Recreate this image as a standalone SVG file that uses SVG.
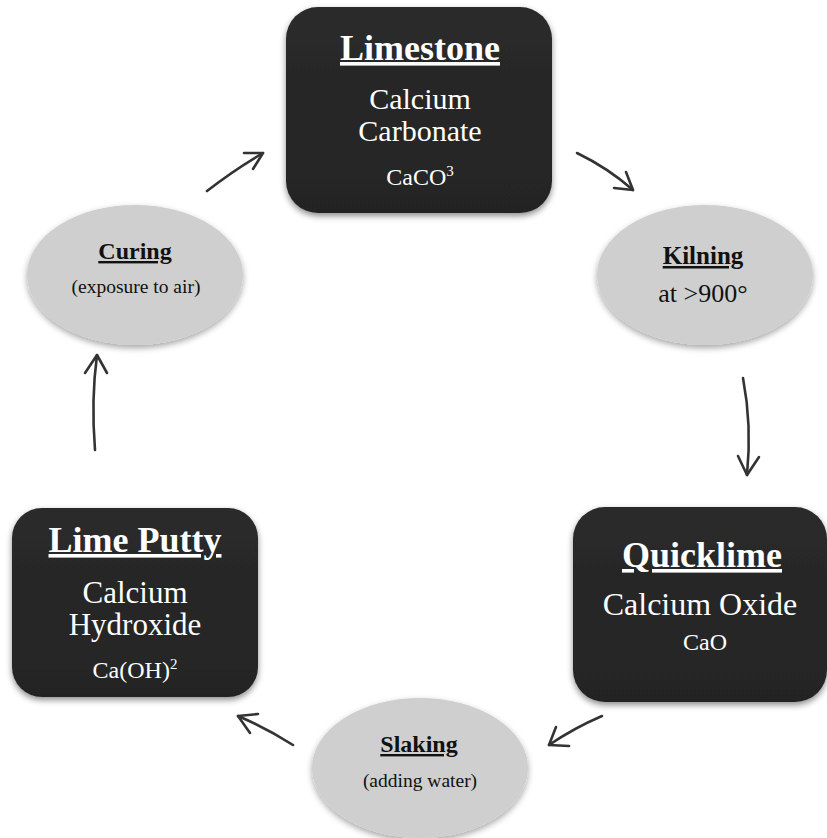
<svg xmlns="http://www.w3.org/2000/svg" width="827" height="838" viewBox="0 0 827 838">
<style>
.box{fill:url(#boxg);filter:url(#sh);}
.ell{fill:#cfcfcf;filter:url(#sh2);}
.t{font-family:'Liberation Serif',Tinos,'Times New Roman','DejaVu Serif',serif;text-anchor:middle;}
.wt{fill:#ffffff;}
.bt{fill:#111111;}
.title{font-weight:bold;text-decoration:underline;}
.arr{fill:none;stroke:#333333;stroke-width:2.6;stroke-linecap:round;stroke-linejoin:round;}
</style>
<defs>
<linearGradient id="boxg" x1="0" y1="0" x2="0" y2="1">
<stop offset="0" stop-color="#2a2a2a"/>
<stop offset="1" stop-color="#242424"/>
</linearGradient>
<filter id="sh" x="-10%" y="-10%" width="120%" height="125%">
<feDropShadow dx="0" dy="3" stdDeviation="3" flood-color="#000" flood-opacity="0.45"/>
</filter>
<filter id="sh2" x="-10%" y="-10%" width="120%" height="125%">
<feDropShadow dx="0" dy="3" stdDeviation="3" flood-color="#000" flood-opacity="0.35"/>
</filter>
</defs>
<rect width="827" height="838" fill="#ffffff"/>

<g id="limestone">
<rect class="box" x="286" y="7" width="266" height="206" rx="32"/>
<text class="t wt title" x="420" y="60" font-size="36" font-family="'Liberation Serif', serif">Limestone</text>
<text class="t wt" x="420" y="109" font-size="30" font-family="'Liberation Serif', serif">Calcium</text>
<text class="t wt" x="420" y="141" font-size="30" font-family="'Liberation Serif', serif">Carbonate</text>
<text class="t wt" x="420" y="185" font-size="24" font-family="'Liberation Serif', serif">CaCO<tspan font-size="15" dy="-9">3</tspan></text>
</g>

<g id="kilning">
<ellipse class="ell" cx="705" cy="275" rx="108" ry="70"/>
<text class="t bt title" x="703" y="264" font-size="25" font-family="'Liberation Serif', serif">Kilning</text>
<text class="t bt" x="703" y="302" font-size="26" font-family="'Liberation Serif', serif">at &gt;900°</text>
</g>

<g id="quicklime">
<rect class="box" x="573" y="507" width="254" height="195" rx="32"/>
<text class="t wt title" x="702" y="567" font-size="36" font-family="'Liberation Serif', serif">Quicklime</text>
<text class="t wt" x="700" y="615" font-size="32" font-family="'Liberation Serif', serif">Calcium Oxide</text>
<text class="t wt" x="705" y="650" font-size="24" font-family="'Liberation Serif', serif">CaO</text>
</g>

<g id="slaking">
<ellipse class="ell" cx="420" cy="768" rx="108" ry="70"/>
<text class="t bt title" x="419" y="752" font-size="24" font-family="'Liberation Serif', serif">Slaking</text>
<text class="t bt" x="420" y="787" font-size="19.5" font-family="'Liberation Serif', serif">(adding water)</text>
</g>

<g id="limeputty">
<rect class="box" x="12" y="508" width="246" height="189" rx="30"/>
<text class="t wt title" x="135" y="552" font-size="36" font-family="'Liberation Serif', serif">Lime Putty</text>
<text class="t wt" x="135" y="603" font-size="31" font-family="'Liberation Serif', serif">Calcium</text>
<text class="t wt" x="135" y="635" font-size="31" font-family="'Liberation Serif', serif">Hydroxide</text>
<text class="t wt" x="135" y="678" font-size="24" font-family="'Liberation Serif', serif">Ca(OH)<tspan font-size="15" dy="-9">2</tspan></text>
</g>

<g id="curing">
<ellipse class="ell" cx="135" cy="275" rx="108" ry="70"/>
<text class="t bt title" x="135" y="259" font-size="24" font-family="'Liberation Serif', serif">Curing</text>
<text class="t bt" x="136" y="293" font-size="19.5" font-family="'Liberation Serif', serif">(exposure to air)</text>
</g>

<g id="connectors">
<path class="arr" d="M207 191 Q234 170 263 153"/>
<path class="arr" d="M244 153 L263 153 L253 169"/>
<path class="arr" d="M577 153 Q608 168 633 190"/>
<path class="arr" d="M626 172 L633 190 L614 188"/>
<path class="arr" d="M743 378 Q752 425 747 475"/>
<path class="arr" d="M738 456 L747 475 L759 457"/>
<path class="arr" d="M602 716 Q574 728 549 745"/>
<path class="arr" d="M556 727 L549 745 L569 746"/>
<path class="arr" d="M293 745 Q266 728 238 716"/>
<path class="arr" d="M258 714 L238 716 L250 733"/>
<path class="arr" d="M95 450 Q91 400 97 355"/>
<path class="arr" d="M85 373 L97 355 L107 373"/>
</g>
</svg>
